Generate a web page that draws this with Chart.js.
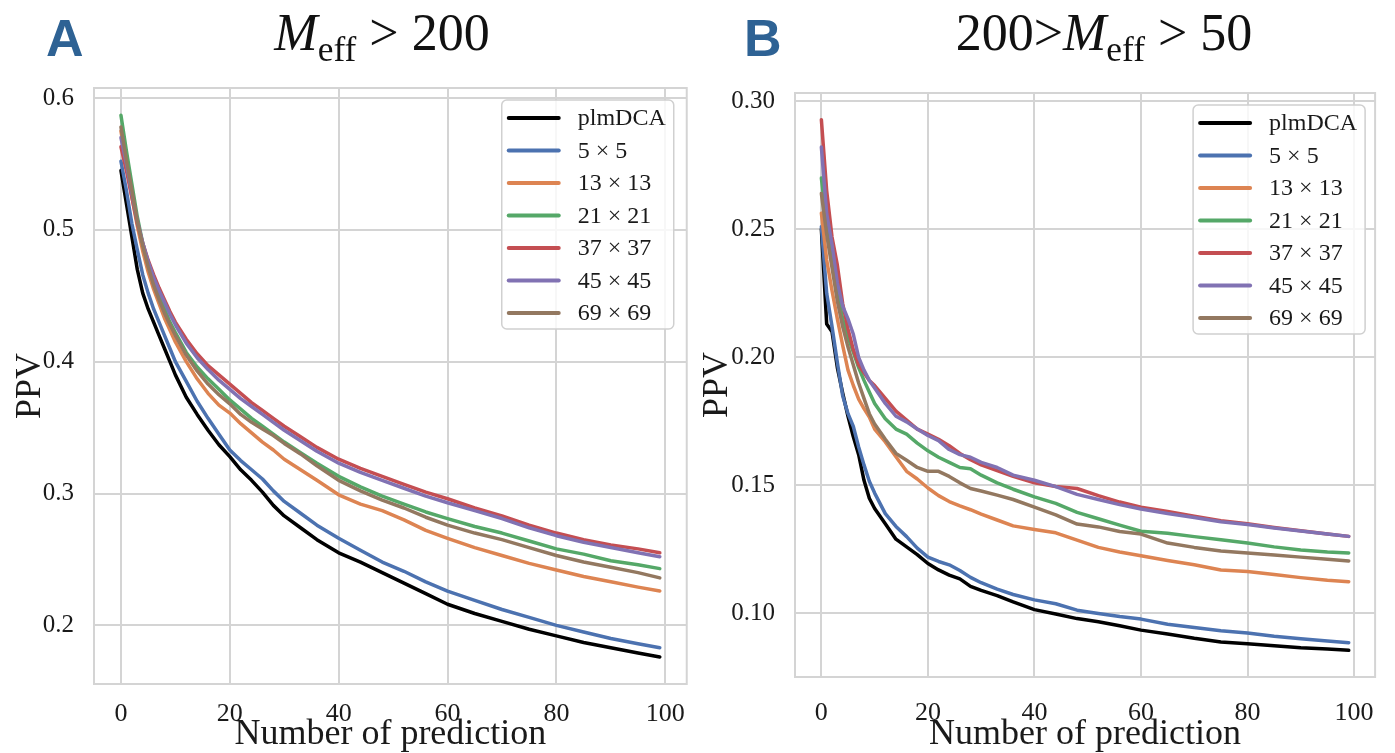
<!DOCTYPE html>
<html>
<head>
<meta charset="utf-8">
<script src="https://cdn.jsdelivr.net/npm/chart.js@4.4.1/dist/chart.umd.min.js"></script>
<style>
    body { margin: 0; background: #fff; width: 1395px; height: 753px; position: relative; overflow: hidden; }
    canvas { position: absolute; top: 0; }
    #chartA { left: 0; }
    #chartB { left: 700px; }
    .letter { position: absolute; top: 12px; font: bold 52px "Liberation Sans", sans-serif; color: #2e6294; line-height: 1; }
    .title { position: absolute; top: 7px; font: 52px "Liberation Serif", serif; color: #111; line-height: 1; transform: translateX(-50%); white-space: nowrap; }
    .title sub { font-size: 0.68em; vertical-align: -0.3em; }
</style>
</head>
<body>
<canvas id="chartA" width="700" height="753"></canvas>
<canvas id="chartB" width="695" height="753"></canvas>
<div class="letter" style="left:46px">A</div>
<div class="letter" style="left:744px">B</div>
<div class="title" style="left:382px"><i>M</i><sub>eff</sub> &gt; 200</div>
<div class="title" style="left:1104px">200&gt;<i>M</i><sub>eff</sub> &gt; 50</div>

<script>
const xs = [0, 1, 2, 3, 4, 5, 6, 7, 8, 9, 10, 12, 14, 16, 18, 20, 22, 24, 26, 28, 30, 33, 36, 40, 44, 48, 52, 56, 60, 65, 70, 75, 80, 85, 90, 95, 99];

const seriesNames = ['plmDCA', '5 × 5', '13 × 13', '21 × 21', '37 × 37', '45 × 45', '69 × 69'];
const seriesColors = ['#000000', '#4c72b0', '#dd8452', '#55a868', '#c44e52', '#8172b3', '#937860'];

// panel A: Meff > 200
const plmA = [.545, .52, .495, .47, .452, .44, .43, .42, .41, .40, .39, .373, .36, .348, .337, .328, .318, .31, .301, .291, .283, .274, .265, .255, .248, .240, .232, .224, .216, .209, .203, .197, .192, .187, .183, .179, .176];
const p5A = [.552, .53, .505, .485, .466, .452, .44, .43, .42, .41, .40, .385, .37, .357, .345, .333, .325, .318, .311, .302, .294, .285, .276, .266, .257, .248, .241, .233, .226, .219, .212, .206, .200, .195, .190, .186, .183];
const p13A = [.575, .55, .525, .503, .484, .468, .455, .444, .433, .424, .415, .4, .387, .376, .367, .361, .353, .346, .339, .333, .326, .318, .31, .299, .292, .287, .28, .272, .266, .259, .253, .247, .242, .237, .233, .229, .226];
const p21A = [.587, .56, .535, .51, .49, .474, .46, .45, .44, .43, .422, .407, .396, .387, .379, .371, .364, .357, .351, .345, .339, .331, .323, .313, .305, .298, .292, .286, .281, .275, .270, .264, .258, .254, .249, .246, .243];
const p37A = [.563, .545, .525, .505, .49, .477, .466, .456, .447, .438, .43, .417, .406, .397, .39, .383, .376, .369, .363, .357, .351, .343, .335, .326, .319, .313, .307, .301, .296, .289, .283, .276, .270, .265, .261, .258, .255];
const p45A = [.57, .55, .528, .507, .49, .476, .464, .454, .445, .436, .428, .414, .403, .394, .386, .379, .372, .366, .36, .354, .348, .34, .332, .323, .316, .31, .304, .298, .293, .287, .281, .274, .268, .263, .259, .255, .252];
const p69A = [.578, .553, .53, .507, .488, .472, .458, .447, .437, .428, .42, .405, .393, .383, .375, .368, .36, .354, .349, .344, .338, .33, .321, .31, .302, .295, .289, .282, .276, .270, .265, .259, .253, .248, .244, .240, .236];

// panel B: 200 > Meff > 50
const plmB = [.250, .213, .210, .196, .186, .177, .169, .162, .152, .145, .141, .135, .129, .126, .123, .1195, .117, .115, .1135, .1106, .109, .107, .1045, .1015, .0998, .098, .0968, .0952, .0935, .092, .0903, .0889, .0882, .0874, .0866, .0861, .0856];
const p5B = [.251, .225, .212, .198, .185, .178, .173, .165, .158, .1516, .147, .139, .134, .130, .1255, .122, .1203, .119, .1168, .1141, .112, .1095, .1074, .1053, .1038, .1013, .1000, .0988, .0978, .0958, .0945, .0933, .0924, .0911, .0901, .0893, .0886];
const p13B = [.2563, .238, .226, .215, .2047, .195, .189, .1837, .18, .1767, .172, .167, .1612, .1555, .1525, .149, .146, .1437, .142, .1405, .1388, .1365, .1342, .1328, .1315, .1286, .1258, .124, .1225, .1207, .119, .117, .1164, .1152, .114, .113, .1124];
const p21B = [.270, .252, .237, .225, .215, .208, .202, .196, .191, .1865, .182, .176, .172, .170, .1665, .1635, .161, .159, .157, .1565, .154, .151, .1485, .1455, .143, .1395, .137, .1345, .1321, .1313, .130, .1288, .1275, .126, .1248, .124, .1236];
const p37B = [.2928, .265, .247, .236, .221, .211, .203, .197, .194, .191, .189, .184, .179, .1755, .172, .170, .168, .1655, .1625, .160, .158, .1558, .1535, .151, .1496, .1488, .146, .1435, .1415, .1398, .138, .1362, .135, .1336, .1323, .131, .1301];
const p45B = [.2821, .256, .244, .229, .22, .215, .209, .2, .195, .191, .188, .182, .177, .1748, .172, .1695, .1675, .164, .162, .161, .159, .157, .154, .152, .1495, .1465, .1445, .1425, .1408, .139, .1375, .1358, .1347, .1334, .1322, .131, .1301];
const p69B = [.264, .248, .235, .222, .212, .204, .197, .19, .184, .178, .174, .168, .1625, .1598, .157, .1555, .1555, .1535, .151, .1488, .1478, .1462, .1445, .1415, .1385, .1349, .1338, .132, .131, .1275, .1258, .1244, .1236, .1228, .122, .1212, .1205];

const xTicks = [0, 20, 40, 60, 80, 100];
const xTickLabels = ['0', '20', '40', '60', '80', '100'];
const yTicksA = [0.2, 0.3, 0.4, 0.5, 0.6];
const yTickLabelsA = ['0.2', '0.3', '0.4', '0.5', '0.6'];
const yTicksB = [0.10, 0.15, 0.20, 0.25, 0.30];
const yTickLabelsB = ['0.10', '0.15', '0.20', '0.25', '0.30'];

const SERIF = '"Liberation Serif", serif';
const GRID = '#d4d4d4';
const TEXT = '#1a1a1a';

// frame round the plot area, like the seaborn whitegrid spines
const frame = {
    id: 'frame',
    beforeDatasetsDraw(chart) {
        const { ctx, chartArea: a } = chart;
        ctx.save();
        ctx.strokeStyle = GRID;
        ctx.lineWidth = 2;
        ctx.strokeRect(a.left, a.top, a.right - a.left, a.bottom - a.top);
        ctx.restore();
    }
};

// legend box in the upper right corner of the plot area
const boxLegend = {
    id: 'boxLegend',
    afterDatasetsDraw(chart, args, opts) {
        const { ctx, chartArea } = chart;
        const sets = chart.data.datasets;
        ctx.save();
        ctx.font = '24px ' + SERIF;
        const textW = Math.max(...sets.map(d => ctx.measureText(d.label).width));
        const rowH = 32.5;
        const w = 7 + 50 + 19 + textW + 8;
        const h = 18 + rowH * (sets.length - 1) + 16;
        const x0 = chartArea.right - opts.right - w;
        const y0 = chartArea.top + opts.top;
        ctx.beginPath();
        ctx.roundRect(x0, y0, w, h, 5);
        ctx.fillStyle = 'rgba(255,255,255,0.8)';
        ctx.fill();
        ctx.strokeStyle = '#d0d0d0';
        ctx.lineWidth = 1.5;
        ctx.stroke();
        sets.forEach((d, i) => {
            const cy = y0 + 18 + i * rowH;
            ctx.beginPath();
            ctx.moveTo(x0 + 7, cy);
            ctx.lineTo(x0 + 57, cy);
            ctx.strokeStyle = d.borderColor;
            ctx.lineWidth = 4;
            ctx.lineCap = 'round';
            ctx.stroke();
            ctx.fillStyle = TEXT;
            ctx.textBaseline = 'middle';
            ctx.fillText(d.label, x0 + 76, cy + 1);
        });
        ctx.restore();
    }
};

function makePanel(id, series, yMin, yMax, yTicks, yLabels, box) {
    const datasets = series.map((vals, i) => ({
        label: seriesNames[i],
        data: xs.map((x, j) => ({ x: x, y: vals[j] })),
        borderColor: seriesColors[i],
        borderWidth: 3.5,
        pointRadius: 0,
        tension: 0,
        borderJoinStyle: 'round',
        borderCapStyle: 'round',
        order: series.length - i
    }));

    new Chart(document.getElementById(id), {
        type: 'line',
        data: { datasets: datasets },
        options: {
            responsive: false,
            animation: false,
            events: [],
            layout: {
                autoPadding: false,
                padding: { left: 0, top: box.top, right: box.right, bottom: 0 }
            },
            plugins: {
                legend: { display: false },
                tooltip: { enabled: false },
                boxLegend: box.legend
            },
            scales: {
                x: {
                    type: 'linear',
                    min: -4.95,
                    max: 103.95,
                    afterBuildTicks: s => { s.ticks = xTicks.map(v => ({ value: v })); },
                    afterFit: s => { s.height = box.bottomH; },
                    grid: { color: GRID, lineWidth: 2, drawTicks: false },
                    border: { display: false },
                    ticks: {
                        padding: box.xTickPad,
                        color: TEXT,
                        font: { family: SERIF, size: 26 },
                        maxRotation: 0,
                        callback: (v, i) => xTickLabels[i]
                    },
                    title: {
                        display: true,
                        text: 'Number of prediction',
                        color: TEXT,
                        font: { family: SERIF, size: 36, lineHeight: 1 },
                        padding: { top: 0, bottom: 0 }
                    }
                },
                y: {
                    type: 'linear',
                    min: yMin,
                    max: yMax,
                    afterBuildTicks: s => { s.ticks = yTicks.map(v => ({ value: v })); },
                    afterFit: s => { s.width = box.leftW; },
                    grid: { color: GRID, lineWidth: 2, drawTicks: false },
                    border: { display: false },
                    ticks: {
                        padding: 20,
                        color: TEXT,
                        font: { family: SERIF, size: 25 },
                        callback: (v, i) => yLabels[i]
                    },
                    title: {
                        display: true,
                        text: 'PPV',
                        color: TEXT,
                        font: { family: SERIF, size: 36, lineHeight: 1 },
                        padding: { top: box.titlePad, bottom: 0 }
                    }
                }
            }
        },
        plugins: [frame, boxLegend]
    });
}

makePanel('chartA', [plmA, p5A, p13A, p21A, p37A, p45A, p69A], 0.1555, 0.6076, yTicksA, yTickLabelsA,
    { top: 88, right: 7, leftW: 94, bottomH: 69, xTickPad: 15, titlePad: 13, legend: { right: 13, top: 12 } });

makePanel('chartB', [plmB, p5B, p13B, p21B, p37B, p45B, p69B], 0.0752, 0.3032, yTicksB, yTickLabelsB,
    { top: 93, right: 12, leftW: 95, bottomH: 76, xTickPad: 21, titlePad: 0, legend: { right: 10, top: 12 } });
</script>
</body>
</html>
